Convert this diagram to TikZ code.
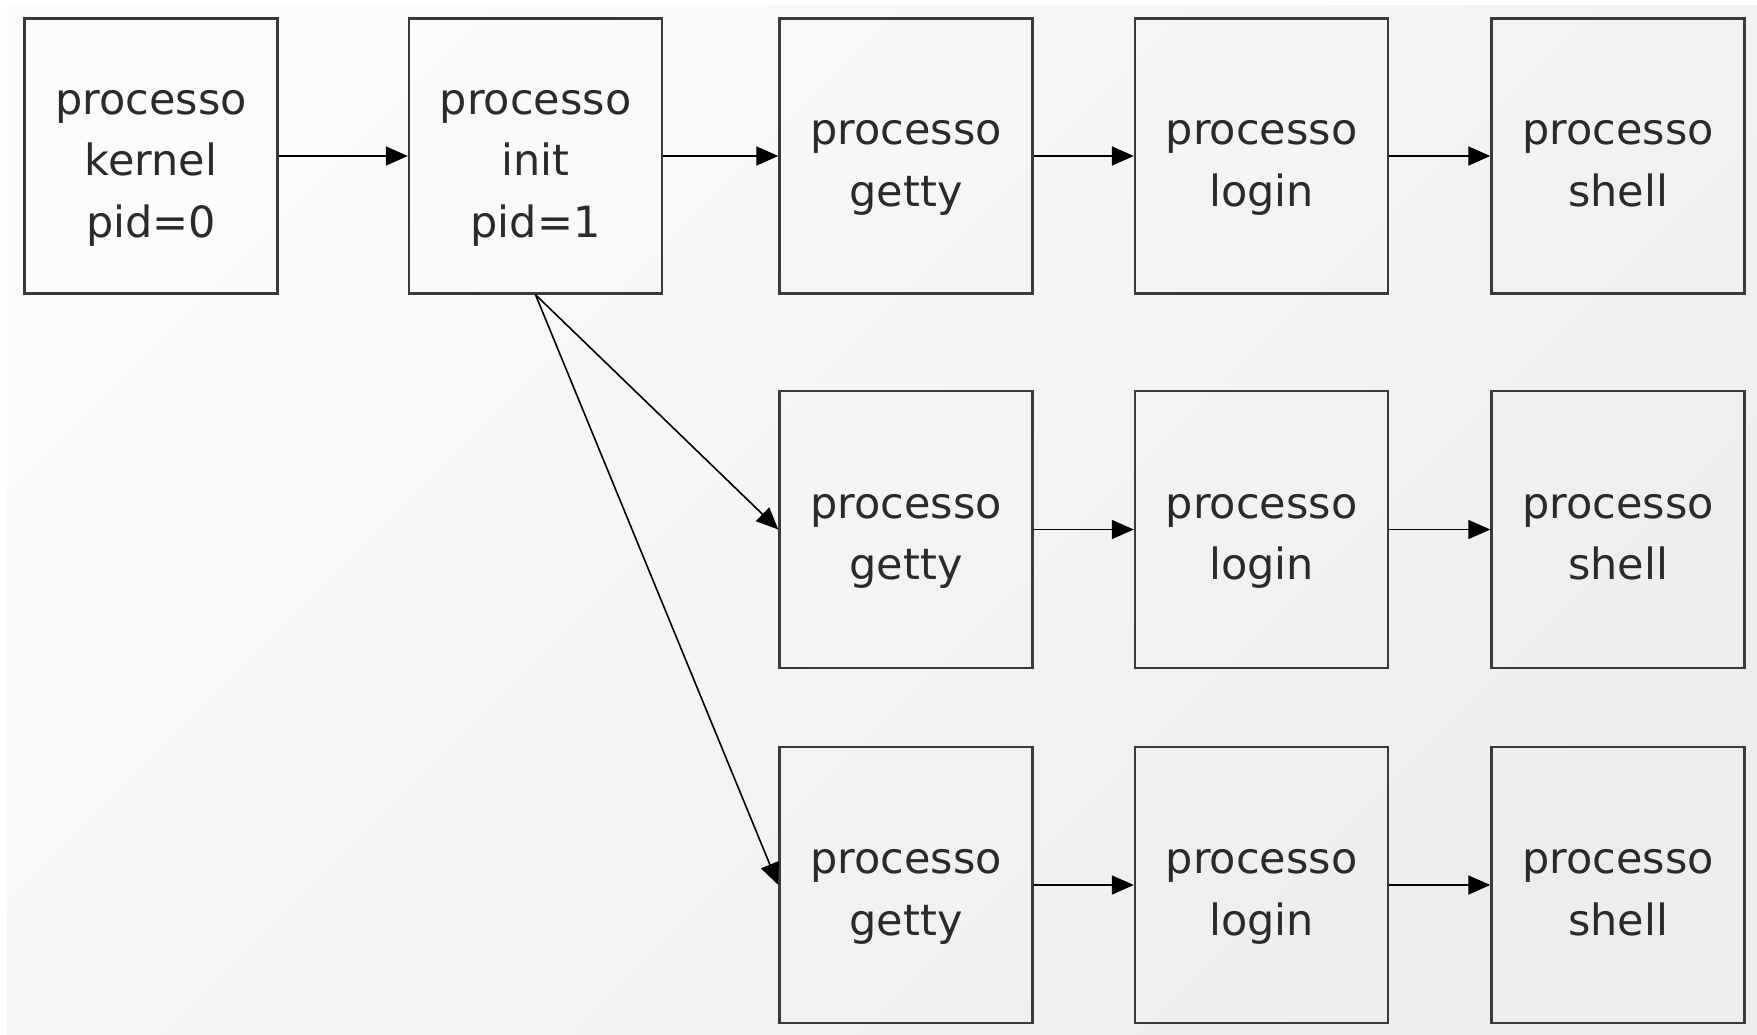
\documentclass[tikz,border=0pt]{standalone}
\usepackage{fontspec}
\setmainfont{DejaVu Sans}
\usetikzlibrary{arrows.meta}
\definecolor{bgA}{HTML}{FBFBFB}
\definecolor{bgD}{HTML}{EDEDED}
\definecolor{edge}{HTML}{3A3A3A}
\definecolor{txt}{HTML}{2A2A2A}
\begin{document}
\begin{tikzpicture}[x=1pt,y=-1pt,
  proc/.style={draw=edge, line width=2.4pt, minimum width=253pt, minimum height=275pt, inner sep=0pt},
  ptext/.style={align=center, text=txt, inner sep=0pt, font=\fontsize{43}{61.5}\selectfont},
  link/.style={draw=black, line width=1.6pt, -{Triangle[length=22pt,width=19pt]}}]
\useasboundingbox (0,0) rectangle (1757,1034);
\fill[white] (0,0) rectangle (1757,1034);
\shade[top color=bgA, bottom color=bgD, shading angle=45] (7,5) rectangle (1757,1034);
% row 1
\node[proc] (kernel) at (151,156) {};
\node[proc] (init) at (535.5,156) {};
\node[proc] (g1) at (906,156) {};
\node[proc] (l1) at (1261.5,156) {};
\node[proc] (s1) at (1618,156) {};
% row 2
\node[proc, minimum height=277pt] (g2) at (906,529.5) {};
\node[proc, minimum height=277pt] (l2) at (1261.5,529.5) {};
\node[proc, minimum height=277pt] (s2) at (1618,529.5) {};
% row 3
\node[proc, minimum height=276pt] (g3) at (906,885) {};
\node[proc, minimum height=276pt] (l3) at (1261.5,885) {};
\node[proc, minimum height=276pt] (s3) at (1618,885) {};
% texts
\node[ptext] (kernelT) at ([yshift=-12pt]kernel.center) {processo\\kernel\\pid=0};
\node[ptext] (initT) at ([yshift=-12pt]init.center) {processo\\init\\pid=1};
\node[ptext] (g1T) at ([yshift=-12pt]g1.center) {processo\\getty};
\node[ptext] (l1T) at ([yshift=-12pt]l1.center) {processo\\login};
\node[ptext] (s1T) at ([yshift=-12pt]s1.center) {processo\\shell\vphantom{g}};
\node[ptext] (g2T) at ([yshift=-12pt]g2.center) {processo\\getty};
\node[ptext] (l2T) at ([yshift=-12pt]l2.center) {processo\\login};
\node[ptext] (s2T) at ([yshift=-12pt]s2.center) {processo\\shell\vphantom{g}};
\node[ptext] (g3T) at ([yshift=-12pt]g3.center) {processo\\getty};
\node[ptext] (l3T) at ([yshift=-12pt]l3.center) {processo\\login};
\node[ptext] (s3T) at ([yshift=-12pt]s3.center) {processo\\shell\vphantom{g}};
% connectors
\draw[link] (kernel) -- (init);
\draw[link] (init) -- (g1);
\draw[link] (g1) -- (l1);
\draw[link] (l1) -- (s1);
\draw[link] (g2) -- (l2);
\draw[link] (l2) -- (s2);
\draw[link] (g3) -- (l3);
\draw[link] (l3) -- (s3);
\draw[link] (init.south) -- (g2.west);
\draw[link] (init.south) -- (g3.west);
\end{tikzpicture}
\end{document}
